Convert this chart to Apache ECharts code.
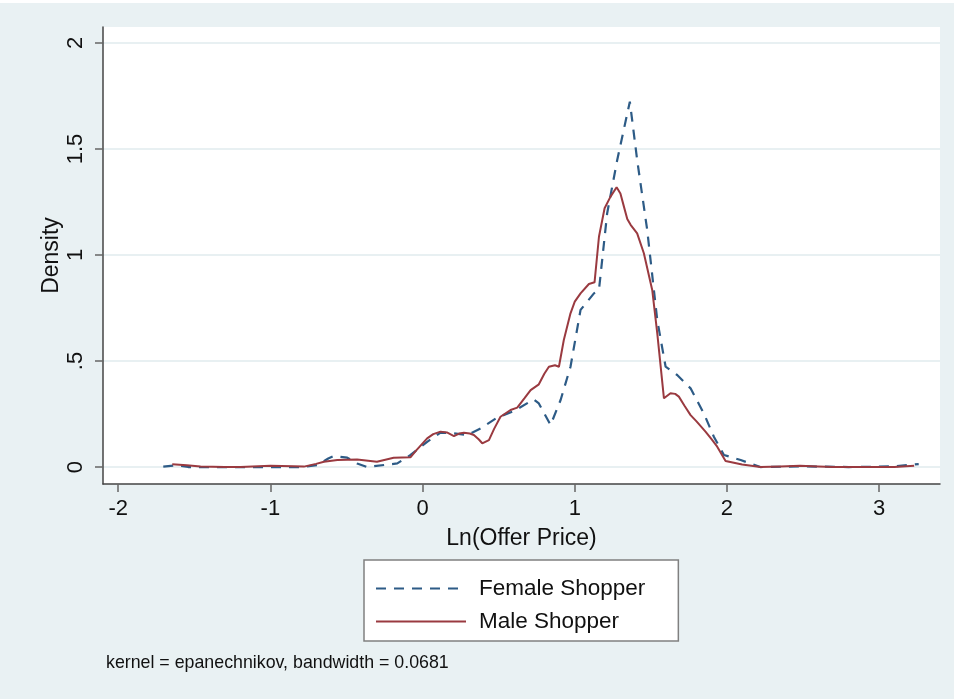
<!DOCTYPE html>
<html>
<head>
<meta charset="utf-8">
<script src="https://cdn.jsdelivr.net/npm/echarts@6/dist/echarts.min.js"></script>
<style>
html,body{margin:0;padding:0;background:#e9f1f3;}
#c{width:954px;height:699px;}
</style>
</head>
<body>
<div id="c"></div>
<script>
// Ln(Offer Price) and density readings
const femaleX = [-1.704,-1.612,-1.54,-1.3,-1.0,-0.8,-0.69,-0.62,-0.583,-0.495,-0.43,-0.363,-0.25,-0.166,-0.079,0.03,0.118,0.206,0.294,0.381,0.49,0.6,0.731,0.764,0.841,0.907,0.972,1.038,1.126,1.159,1.213,1.279,1.362,1.41,1.476,1.542,1.597,1.673,1.761,1.848,1.914,1.98,2.09,2.22,2.5,2.8,3.1,3.185,3.26];
const femaleY = [0.002,0.009,0.0,0.0,0.0,0.0,0.009,0.04,0.052,0.044,0.017,0.0,0.01,0.017,0.057,0.119,0.162,0.159,0.151,0.182,0.233,0.264,0.319,0.300,0.198,0.316,0.473,0.741,0.819,0.835,1.197,1.448,1.723,1.448,1.118,0.693,0.473,0.434,0.371,0.253,0.143,0.057,0.033,0.0,0.003,0.0,0.003,0.009,0.014];
const maleX = [-1.645,-1.55,-1.459,-1.3,-1.196,-1.0,-0.85,-0.78,-0.70,-0.648,-0.56,-0.43,-0.3,-0.19,-0.08,-0.04,0.03,0.07,0.118,0.16,0.206,0.24,0.272,0.31,0.337,0.37,0.392,0.436,0.47,0.512,0.578,0.622,0.67,0.71,0.764,0.80,0.83,0.87,0.896,0.928,0.972,1.0,1.038,1.093,1.13,1.159,1.196,1.235,1.275,1.30,1.323,1.345,1.367,1.41,1.454,1.509,1.542,1.586,1.629,1.66,1.684,1.72,1.761,1.80,1.859,1.90,1.936,1.991,2.1,2.22,2.35,2.48,2.6,2.7,2.9,3.1,3.23];
const maleY = [0.013,0.008,0.002,0.0,0.0,0.006,0.004,0.002,0.015,0.025,0.033,0.036,0.025,0.044,0.046,0.08,0.135,0.155,0.167,0.163,0.146,0.158,0.162,0.158,0.151,0.13,0.112,0.127,0.18,0.237,0.269,0.280,0.325,0.363,0.390,0.44,0.473,0.48,0.473,0.599,0.725,0.78,0.819,0.863,0.871,1.086,1.220,1.275,1.319,1.29,1.228,1.17,1.142,1.102,1.008,0.835,0.631,0.324,0.348,0.345,0.332,0.29,0.245,0.215,0.167,0.13,0.096,0.028,0.012,0.0,0.003,0.006,0.003,0.0,0.0,0.0,0.006];
const xTicks = [-2,-1,0,1,2,3];
const yTicks = [0,0.5,1,1.5,2];
const yTickText = ['0','.5','1','1.5','2'];
const seriesNames = ['Female Shopper','Male Shopper'];
const noteText = 'kernel = epanechnikov, bandwidth = 0.0681';

const FONT = '"Liberation Sans", Arial, Helvetica, sans-serif';
const zip = (xs, ys) => xs.map((x, i) => [x, ys[i]]);

const chart = echarts.init(document.getElementById('c'), null, {renderer: 'canvas'});
chart.setOption({
  backgroundColor: '#e9f1f3',
  animation: false,
  textStyle: {fontFamily: FONT},
  grid: {left: 103, right: 14, top: 27, bottom: 215, show: true, backgroundColor: '#ffffff', borderWidth: 0},
  xAxis: {
    type: 'value', min: -2.1, max: 3.4,
    name: 'Ln(Offer Price)', nameLocation: 'middle', nameGap: 43,
    nameTextStyle: {fontSize: 23, color: '#111', fontFamily: FONT},
    axisLine: {show: true, onZero: false, lineStyle: {color: '#444', width: 1.5}},
    axisTick: {show: true, length: 8, customValues: xTicks, lineStyle: {color: '#666', width: 1.5}},
    axisLabel: {customValues: xTicks, fontSize: 22, color: '#111', margin: 14, fontFamily: FONT},
    splitLine: {show: false}
  },
  yAxis: {
    type: 'value', min: -0.08, max: 2.075,
    name: 'Density', nameLocation: 'middle', nameGap: 40, nameRotate: 90, nameMoveOverlap: false,
    nameTextStyle: {fontSize: 23, color: '#111', fontFamily: FONT},
    axisLine: {show: true, onZero: false, lineStyle: {color: '#444', width: 1.5}},
    axisTick: {show: true, length: 8, customValues: yTicks, lineStyle: {color: '#666', width: 1.5}},
    axisLabel: {customValues: yTicks, rotate: 90, fontSize: 22, color: '#111', margin: 16, fontFamily: FONT,
      formatter: v => { const i = yTicks.indexOf(+v); return i >= 0 ? yTickText[i] : ''; }},
    splitLine: {show: true, lineStyle: {color: '#e8f0f2', width: 2}}
  },
  legend: {
    orient: 'vertical', left: 364, top: 560,
    data: seriesNames,
    backgroundColor: '#ffffff', borderColor: '#808080', borderWidth: 1.5,
    padding: [17, 33, 8, 11],
    itemWidth: 90, itemHeight: 22, itemGap: 10,
    itemStyle: {opacity: 0},
    textStyle: {fontSize: 22.5, color: '#111', fontFamily: FONT, padding: [0, 0, 0, 8]}
  },
  graphic: [
    {type: 'rect', left: 0, top: 0, shape: {width: 954, height: 3}, style: {fill: '#ffffff'}, silent: true},
    {type: 'text', left: 106, top: 654, style: {text: noteText, font: '17.8px ' + FONT, fill: '#111'}}
  ],
  series: [
    {
      name: seriesNames[0], type: 'line', data: zip(femaleX, femaleY),
      symbol: 'none', smooth: false, z: 3,
      lineStyle: {color: '#2d5b86', width: 2.2, type: [10, 8]},
      itemStyle: {color: '#2d5b86'}
    },
    {
      name: seriesNames[1], type: 'line', data: zip(maleX, maleY),
      symbol: 'none', smooth: false, z: 4,
      lineStyle: {color: '#9a3a40', width: 2},
      itemStyle: {color: '#9a3a40'}
    }
  ]
});
</script>
</body>
</html>
